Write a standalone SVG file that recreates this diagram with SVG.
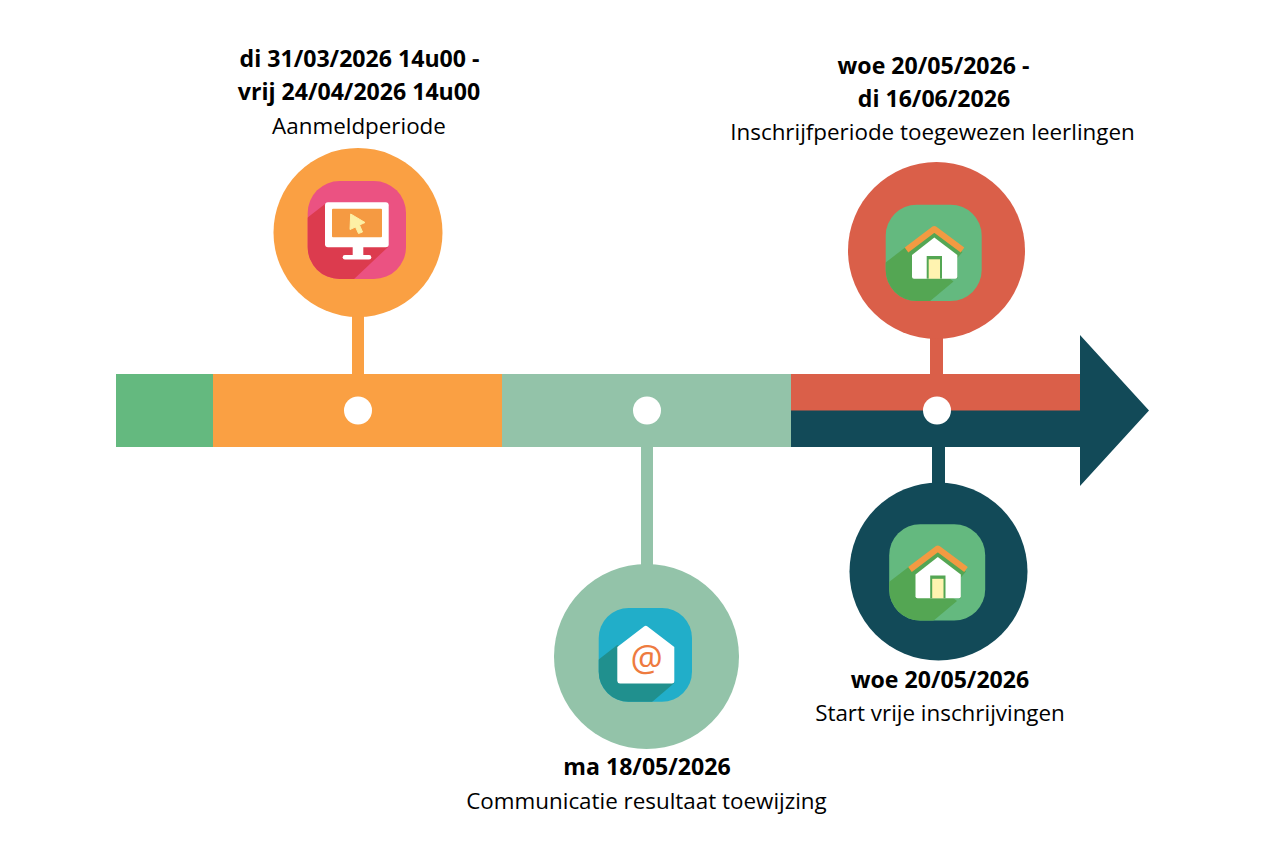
<svg xmlns="http://www.w3.org/2000/svg" width="1262" height="846" viewBox="0 0 1262 846">
<style>
text{font-family:"Open Sans","Liberation Sans",sans-serif;font-size:22.4px;fill:#000;text-anchor:middle}
.b{font-weight:700;font-size:23.1px}
.w{fill:#fff}
</style>
<defs>
<clipPath id="c1"><rect x="307.7" y="181" width="98.3" height="98" rx="32"/></clipPath>
<clipPath id="c2"><rect x="885.7" y="204.7" width="96" height="96.3" rx="31"/></clipPath>
<clipPath id="c3"><rect x="598.7" y="608" width="93.3" height="93.7" rx="30"/></clipPath>
<g id="house">
<rect x="885.7" y="204.7" width="96" height="96.3" rx="31" fill="#64b97f"/>
<polygon points="885,263 907,246 953.5,281.5 929,302 885,302" fill="#54a653" clip-path="url(#c2)"/>
<polygon points="906,252 934.3,231 962.5,252 957.3,258 957.3,278.7 912,278.7 912,258" fill="#54a653"/>
<path d="M912 255L934.3 237.5L957.3 255V276.7a2 2 0 0 1-2 2H914a2 2 0 0 1-2-2Z" fill="#fff"/>
<path d="M906.500 250L934.300 229L962.500 250" fill="none" stroke="#f29a42" stroke-width="6" stroke-linejoin="round"/>
<rect x="926.7" y="256" width="15.3" height="22.7" fill="#54a653"/>
<rect x="928.7" y="259.300" width="11.3" height="19.4" fill="#fff3b0"/>
</g>
</defs>
<g id="connectors">
<rect x="352" y="315" width="12" height="60" fill="#faa043"/>
<rect x="641" y="446" width="12" height="120" fill="#93c3a9"/>
<rect x="930" y="337" width="13" height="38" fill="#da5f49"/>
<rect x="932" y="446" width="13" height="39" fill="#124a58"/>
</g>
<g id="timeline">
<rect x="116" y="374" width="97" height="73" fill="#64b97f"/>
<rect x="213" y="374" width="289" height="73" fill="#faa043"/>
<rect x="502" y="374" width="289" height="73" fill="#93c3a9"/>
<rect x="791" y="374" width="290" height="37" fill="#da5f49"/>
<path d="M791 410.5H1080V335L1149 410.5L1080 486V447H791Z" fill="#124a58"/>
<circle class="w" cx="358" cy="410.5" r="14"/>
<circle class="w" cx="647" cy="410.5" r="14"/>
<circle class="w" cx="937" cy="410.5" r="14"/>
</g>
<g id="node-aanmeld">
<circle cx="358" cy="232.5" r="84.5" fill="#faa043"/>
<rect x="307.7" y="181" width="98.3" height="98" rx="32" fill="#eb5282"/>
<polygon points="307,218 325,204 388,247 353,280 307,280" fill="#dc3b4e" clip-path="url(#c1)"/>
<rect class="w" x="325" y="202.3" width="63.7" height="45" rx="3"/>
<rect x="332" y="208.7" width="50" height="28.6" rx="1" fill="#f59a42"/>
<rect class="w" x="352.7" y="246" width="10.6" height="10"/>
<rect class="w" x="342.7" y="255" width="28.6" height="4.5" rx="2.2"/>
<polygon points="350.7,214 365,222.5 359.5,225 362.5,232 358.5,233.5 355.5,227 350,229.5" fill="#fdf0a5" stroke="#fdf0a5" stroke-linejoin="round"/>
<text class="b" x="359.500" y="67">di 31/03/2026 14u00 -</text>
<text class="b" x="359" y="100">vrij 24/04/2026 14u00</text>
<text x="359" y="134">Aanmeldperiode</text>
</g>
<g id="node-toewijzing">
<circle cx="646.5" cy="656.5" r="92.5" fill="#93c3a9"/>
<rect x="598.7" y="608" width="93.3" height="93.7" rx="30" fill="#21aec9"/>
<polygon points="598,660 617.3,645 674.3,683 652,702 598,702" fill="#20908e" clip-path="url(#c3)"/>
<path d="M617.3 647L644 626.5a3 3 0 0 1 3.500 0L674.300 647V681a2.500 2.500 0 0 1-2.500 2.500H620a2.700 2.700 0 0 1-2.700-2.500Z" fill="#fff"/>
<text x="646.700" y="671" style="font-size:36px;font-weight:400;fill:#ee7b3f">@</text>
<text class="b" x="647" y="775">ma 18/05/2026</text>
<text x="646.500" y="809">Communicatie resultaat toewijzing</text>
</g>
<g id="node-inschrijf">
<circle cx="936.500" cy="250.500" r="88.500" fill="#da5f49"/>
<use href="#house"/>
<text class="b" x="933.500" y="74">woe 20/05/2026 -</text>
<text class="b" x="934" y="107">di 16/06/2026</text>
<text x="932.500" y="140">Inschrijfperiode toegewezen leerlingen</text>
</g>
<g id="node-vrij">
<circle cx="938.500" cy="571.500" r="89" fill="#124a58"/>
<use href="#house" transform="translate(3.500 319.500)"/>
<text class="b" x="940" y="688">woe 20/05/2026</text>
<text x="940" y="721">Start vrije inschrijvingen</text>
</g>
</svg>
